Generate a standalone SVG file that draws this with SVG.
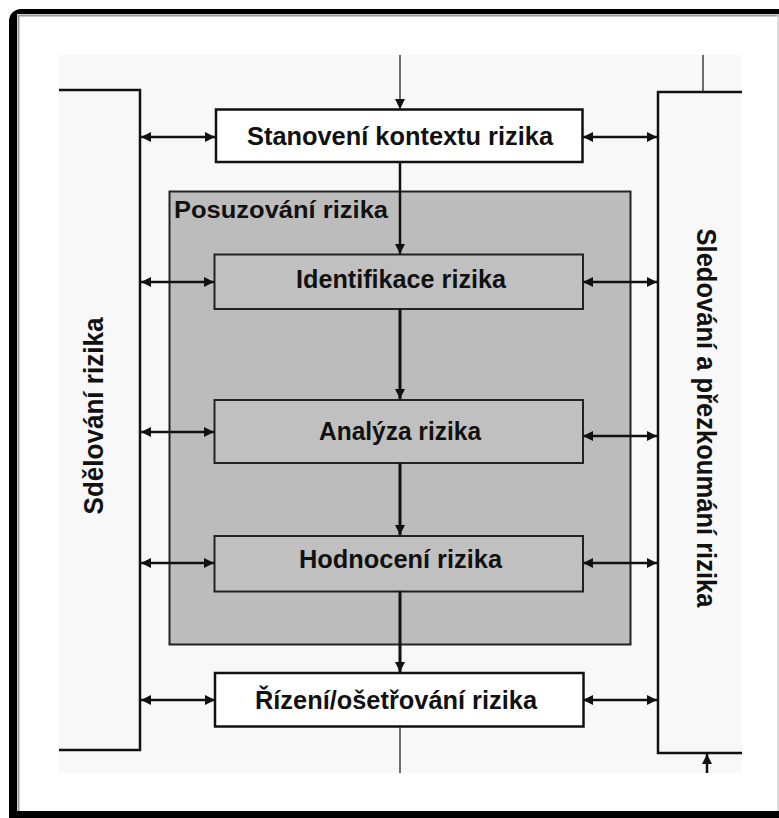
<svg xmlns="http://www.w3.org/2000/svg" width="779" height="818" viewBox="0 0 779 818">
  <defs>
    <marker id="ah" viewBox="0 0 10 10" refX="10" refY="5" markerWidth="10" markerHeight="10" markerUnits="userSpaceOnUse" orient="auto-start-reverse">
      <path d="M0,0 L10,5 L0,10 Z" fill="#111"/>
    </marker>
    <style>
      .lbl { font-family: "Liberation Sans", Arial, sans-serif; font-weight: bold; fill: #111; }
      .box { stroke: #222; stroke-width: 2; }
      .white { fill: #ffffff; stroke: #111; stroke-width: 2.5; }
      .grey { fill: #c0c0c0; }
      .link { stroke: #111; stroke-width: 2.5; fill: none; }
      .thick { stroke: #111; stroke-width: 3; fill: none; }
      .thin { stroke: #222; stroke-width: 1.3; fill: none; }
      .bracket { stroke: #111; stroke-width: 2.5; fill: none; }
    </style>
  </defs>

  <!-- window frame -->
  <rect x="9" y="9" width="820" height="860" rx="12" fill="#000"/>
  <rect x="17" y="14" width="780" height="797" fill="#ffffff"/>
  <path d="M18.5,811 V15.5 H779" fill="none" stroke="#9a9a9a" stroke-width="2"/>
  <line x1="778" y1="15" x2="778" y2="811" stroke="#d0d0d0" stroke-width="1.5"/>

  <!-- panel -->
  <rect x="58" y="55" width="684" height="718" fill="#f8f8f8"/>

  <!-- side brackets -->
  <g id="sdelovani">
    <polyline class="bracket" points="59,90 140,90 140,750 59,750"/>
    <text class="lbl" font-size="27" transform="translate(103,416) rotate(-90)" text-anchor="middle" textLength="197" lengthAdjust="spacingAndGlyphs">Sdělování rizika</text>
  </g>
  <g id="sledovani">
    <polyline class="bracket" points="742,92 658,92 658,753 742,753"/>
    <text class="lbl" font-size="27" transform="translate(697,418) rotate(90)" text-anchor="middle" textLength="379" lengthAdjust="spacingAndGlyphs">Sledování a přezkoumání rizika</text>
  </g>

  <!-- Posuzovani container -->
  <g id="posuzovani">
    <rect x="169.5" y="191.5" width="461" height="453" fill="#bcbcbc" stroke="#222" stroke-width="2"/>
    <text class="lbl" x="174" y="218" font-size="23" textLength="214" lengthAdjust="spacingAndGlyphs">Posuzování rizika</text>
  </g>

  <g id="stanoveni">
    <rect class="white" x="216" y="109.5" width="366.5" height="52.5"/>
    <text class="lbl" x="400" y="145" font-size="25" text-anchor="middle" textLength="306" lengthAdjust="spacingAndGlyphs">Stanovení kontextu rizika</text>
  </g>
  <g id="identifikace">
    <rect class="box grey" x="214.5" y="254.5" width="368.5" height="54.5"/>
    <text class="lbl" x="401" y="288" font-size="25" text-anchor="middle" textLength="210" lengthAdjust="spacingAndGlyphs">Identifikace rizika</text>
  </g>
  <g id="analyza">
    <rect class="box grey" x="214.5" y="400" width="368.5" height="63"/>
    <text class="lbl" x="400" y="440" font-size="25" text-anchor="middle" textLength="162" lengthAdjust="spacingAndGlyphs">Analýza rizika</text>
  </g>
  <g id="hodnoceni">
    <rect class="box grey" x="214.5" y="536" width="368.5" height="55.5"/>
    <text class="lbl" x="400.5" y="568" font-size="25" text-anchor="middle" textLength="203" lengthAdjust="spacingAndGlyphs">Hodnocení rizika</text>
  </g>
  <g id="rizeni">
    <rect class="white" x="215" y="673" width="368.5" height="53.5"/>
    <text class="lbl" x="396" y="709" font-size="25" text-anchor="middle" textLength="282" lengthAdjust="spacingAndGlyphs">Řízení/ošetřování rizika</text>
  </g>

  <!-- connectors -->
  <g id="connectors">
    <line class="thin" x1="400" y1="55" x2="400" y2="109" marker-end="url(#ah)"/>
    <line class="link" x1="400" y1="162" x2="400" y2="254" stroke-width="2" marker-end="url(#ah)"/>
    <line class="thick" x1="400" y1="309" x2="400" y2="399" marker-end="url(#ah)"/>
    <line class="thick" x1="400" y1="463" x2="400" y2="535" marker-end="url(#ah)"/>
    <line class="thick" x1="400" y1="591" x2="400" y2="672" marker-end="url(#ah)"/>
    <line class="thin" x1="400" y1="727" x2="400" y2="773"/>
    <line class="thin" x1="703" y1="55" x2="703" y2="92"/>
    <line class="link" x1="707" y1="773" x2="707" y2="754" stroke-width="2" marker-end="url(#ah)"/>

    <line class="link" x1="141" y1="137" x2="215" y2="137" marker-start="url(#ah)" marker-end="url(#ah)"/>
    <line class="link" x1="583" y1="137" x2="657" y2="137" marker-start="url(#ah)" marker-end="url(#ah)"/>
    <line class="link" x1="141" y1="282" x2="214" y2="282" stroke-width="3" marker-start="url(#ah)" marker-end="url(#ah)"/>
    <line class="link" x1="583" y1="282" x2="657" y2="282" stroke-width="3" marker-start="url(#ah)" marker-end="url(#ah)"/>
    <line class="link" x1="141" y1="432" x2="214" y2="432" marker-start="url(#ah)" marker-end="url(#ah)"/>
    <line class="link" x1="583" y1="436" x2="657" y2="436" marker-start="url(#ah)" marker-end="url(#ah)"/>
    <line class="link" x1="141" y1="563" x2="214" y2="563" marker-start="url(#ah)" marker-end="url(#ah)"/>
    <line class="link" x1="583" y1="563" x2="657" y2="563" marker-start="url(#ah)" marker-end="url(#ah)"/>
    <line class="link" x1="141" y1="700" x2="215" y2="700" marker-start="url(#ah)" marker-end="url(#ah)"/>
    <line class="link" x1="583" y1="700" x2="657" y2="700" marker-start="url(#ah)" marker-end="url(#ah)"/>
  </g>
</svg>
